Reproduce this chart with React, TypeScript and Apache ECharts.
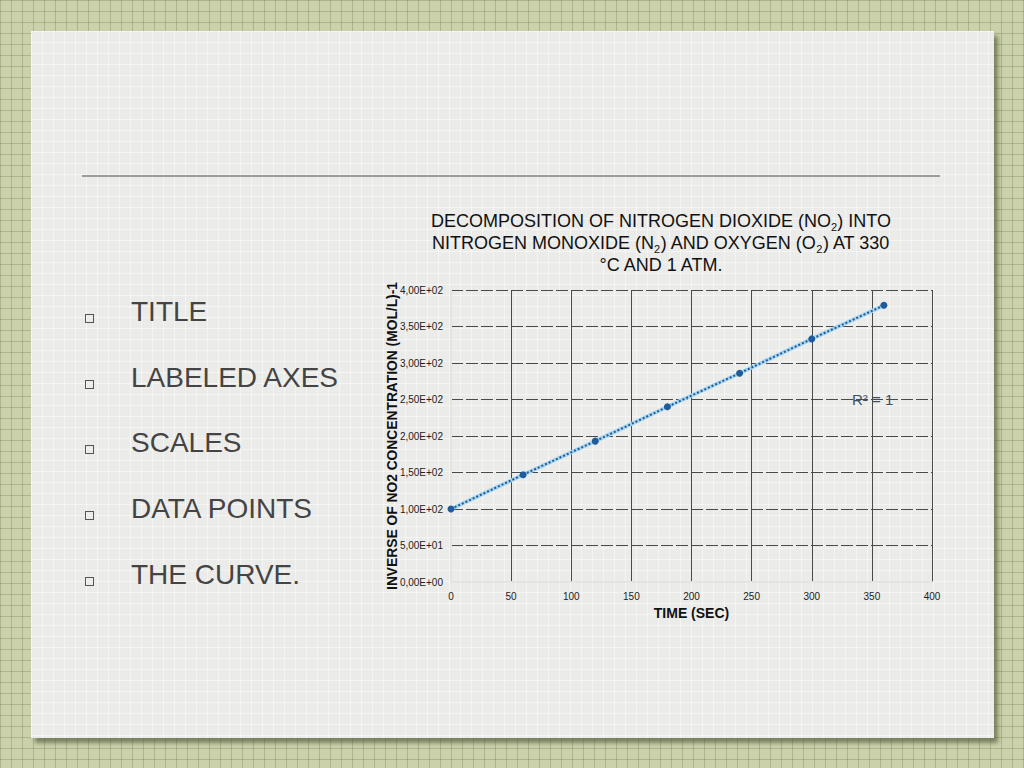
import React, { useEffect, useRef } from 'react';
import * as echarts from 'echarts';

const times = [0, 60, 120, 180, 240, 300, 360];
const inverseConc = [100, 147, 193, 240, 286, 333, 379];
const bulletItems = ['TITLE', 'LABELED AXES', 'SCALES', 'DATA POINTS', 'THE CURVE.'];
const bulletY = [312, 378, 443, 509, 575];

const sci = (v: number) => {
  const [m, e] = v.toExponential(2).split('e');
  const n = parseInt(e, 10);
  return m.replace('.', ',') + 'E' + (n < 0 ? '-' : '+') + String(Math.abs(n)).padStart(2, '0');
};

const FONT = '"Liberation Sans", Arial, sans-serif';

const NO2Chart: React.FC = () => {
  const chartRef = useRef<HTMLDivElement>(null);

  useEffect(() => {
    if (!chartRef.current) return;
    const chart = echarts.init(chartRef.current, null, { renderer: 'svg' });
    const points = times.map((t, i) => [t, inverseConc[i]]);

    chart.setOption({
      animation: false,
      textStyle: { fontFamily: FONT },
      title: {
        text: 'DECOMPOSITION OF NITROGEN DIOXIDE (NO{sub|2}) INTO\nNITROGEN MONOXIDE (N{sub|2}) AND OXYGEN (O{sub|2}) AT 330\n°C AND 1 ATM.',
        left: 'center',
        top: 10,
        padding: 0,
        textStyle: {
          fontFamily: FONT,
          fontSize: 18,
          fontWeight: 'normal',
          color: '#111',
          lineHeight: 22,
          rich: {
            sub: { fontSize: 11, fontFamily: FONT, color: '#111', verticalAlign: 'bottom', lineHeight: 22 }
          }
        }
      },
      grid: { left: 91, top: 90, width: 481, height: 292, outerBoundsMode: 'none' },
      xAxis: {
        type: 'value',
        min: 0,
        max: 400,
        interval: 50,
        name: 'TIME (SEC)',
        nameLocation: 'middle',
        nameGap: 24,
        nameTextStyle: { fontFamily: FONT, fontSize: 14, fontWeight: 'bold', color: '#111' },
        axisLine: { show: true, lineStyle: { color: '#e4e4e2', width: 2 } },
        axisTick: { show: false },
        axisLabel: { fontSize: 10, color: '#222', margin: 9 },
        splitLine: { show: true, lineStyle: { color: '#4a4a4a', width: 1 } }
      },
      yAxis: {
        type: 'value',
        min: 0,
        max: 400,
        interval: 50,
        name: 'INVERSE OF NO2 CONCENTRATION (MOL/L)-1',
        nameLocation: 'middle',
        nameGap: 52,
        nameMoveOverlap: false,
        nameTextStyle: { fontFamily: FONT, fontSize: 13.8, fontWeight: 'bold', color: '#111' },
        axisLine: { show: true, lineStyle: { color: '#e4e4e2', width: 2 } },
        axisTick: { show: false },
        axisLabel: { fontSize: 10, color: '#222', margin: 8, formatter: sci },
        splitLine: { show: true, lineStyle: { color: '#4a4a4a', width: 1, type: [12, 3] } }
      },
      series: [
        {
          type: 'line',
          data: points,
          symbol: 'none',
          lineStyle: { color: '#a9d6ef', width: 4 },
          z: 2
        },
        {
          type: 'line',
          data: points,
          symbol: 'circle',
          symbolSize: 7,
          itemStyle: { color: '#1f5c9c' },
          lineStyle: { color: '#1f5c9c', width: 2, type: [2, 2] },
          z: 3
        }
      ],
      graphic: [
        {
          type: 'text',
          left: 492,
          top: 192,
          style: { text: 'R² = 1', font: '15px ' + FONT, fill: '#3d4f66' }
        }
      ]
    });

    return () => {
      chart.dispose();
    };
  }, []);

  return (
    <div
      ref={chartRef}
      style={{ position: 'absolute', left: 360, top: 200, width: 602, height: 430 }}
    />
  );
};

export default function App() {
  return (
    <div
      style={{
        position: 'fixed',
        left: 0,
        top: 0,
        width: 1024,
        height: 768,
        overflow: 'hidden',
        backgroundColor: '#cbd1ab',
        backgroundImage:
          'linear-gradient(rgba(110,130,80,0.35) 1px, transparent 1px), linear-gradient(90deg, rgba(110,130,80,0.35) 1px, transparent 1px)',
        backgroundSize: '11px 11px',
        fontFamily: FONT
      }}
    >
      <div
        style={{
          position: 'absolute',
          left: 31,
          top: 31,
          width: 963,
          height: 707,
          backgroundColor: '#ebebe9',
          backgroundImage:
            'linear-gradient(rgba(255,255,255,0.45) 1px, transparent 1px), linear-gradient(90deg, rgba(255,255,255,0.45) 1px, transparent 1px)',
          backgroundSize: '11px 11px',
          boxShadow: '4px 5px 4px rgba(70,80,50,0.6)'
        }}
      />
      <div
        style={{ position: 'absolute', left: 82, top: 175, width: 858, height: 2, background: '#9c9c9a' }}
      />
      {bulletItems.map((item, i) => (
        <React.Fragment key={item}>
          <div
            style={{
              position: 'absolute',
              left: 85,
              top: bulletY[i] + 2,
              width: 7,
              height: 7,
              border: '1px solid #555'
            }}
          />
          <div
            style={{
              position: 'absolute',
              left: 131,
              top: bulletY[i] - 15,
              lineHeight: '30px',
              fontSize: 28,
              color: '#444',
              whiteSpace: 'nowrap'
            }}
          >
            {item}
          </div>
        </React.Fragment>
      ))}
      <NO2Chart />
    </div>
  );
}
